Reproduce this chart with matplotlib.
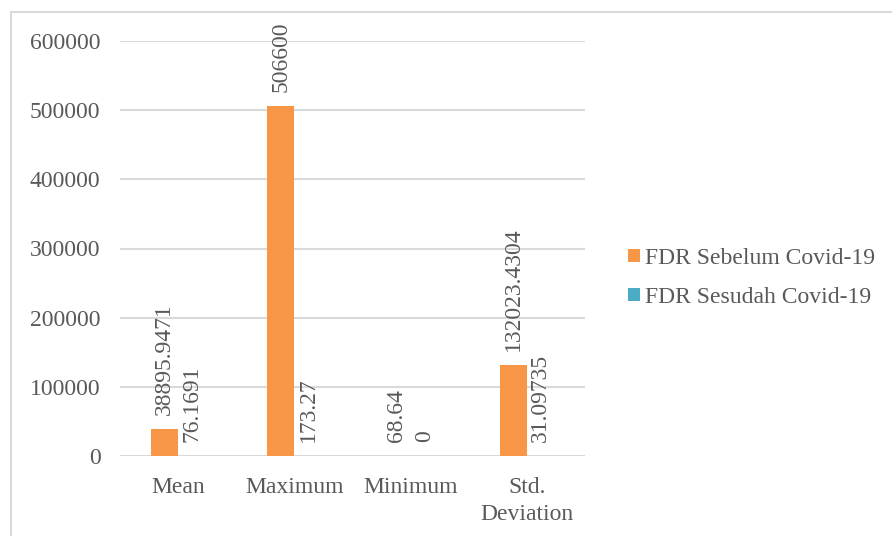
import numpy as np
import matplotlib.pyplot as plt
from matplotlib.patches import Rectangle

# Descriptive statistics of FDR before and after Covid-19
categories = ['Mean', 'Maximum', 'Minimum', 'Std.\nDeviation']
sebelum = [38895.9471, 506600, 68.64, 132023.4304]
sesudah = [76.1691, 173.27, 0, 31.09735]
sebelum_labels = ['38895.9471', '506600', '68.64', '132023.4304']
sesudah_labels = ['76.1691', '173.27', '0', '31.09735']
y_ticks = [0, 100000, 200000, 300000, 400000, 500000, 600000]

plt.rcParams['font.family'] = ['Liberation Serif', 'DejaVu Serif']
text_color = '#595959'
fs = 17

W, H = 892, 536
fig = plt.figure(figsize=(W / 100, H / 100), dpi=100)

# chart frame
fig.add_artist(Rectangle((11 / W, -0.1), 1.2, 1 - 12 / H + 0.1, transform=fig.transFigure,
                         fill=False, edgecolor='#D9D9D9', linewidth=1.5))

ax = fig.add_axes([120 / W, 1 - 456 / H, (585 - 120) / W, (456 - 41) / H])

x = np.arange(len(categories))
width = 0.235
b1 = ax.bar(x - width / 2, sebelum, width, color='#F79646', label='FDR Sebelum Covid-19', zorder=3)
b2 = ax.bar(x + width / 2, sesudah, width, color='#4BACC6', label='FDR Sesudah Covid-19', zorder=3)

# value labels above each bar, rotated
for bars, labels in ((b1, sebelum_labels), (b2, sesudah_labels)):
    for rect, lab in zip(bars, labels):
        ax.annotate(lab, (rect.get_x() + rect.get_width() / 2, rect.get_height()),
                    xytext=(0, 14), textcoords='offset pixels', rotation=90,
                    ha='center', va='bottom', fontsize=fs, color=text_color,
                    annotation_clip=False)

ax.set_xlim(-0.5, len(categories) - 0.5)
ax.set_ylim(0, 600000)
ax.set_yticks(y_ticks)
ax.set_yticklabels([str(t) for t in y_ticks])
ax.set_xticks(x)
ax.set_xticklabels(categories, linespacing=1.4)
ax.tick_params(axis='both', length=0, labelsize=fs, labelcolor=text_color)
ax.tick_params(axis='y', pad=14)
ax.tick_params(axis='x', pad=15)
ax.grid(axis='y', color='#D9D9D9', linewidth=1.5, zorder=0)
for s in ax.spines.values():
    s.set_visible(False)

handles, labels = ax.get_legend_handles_labels()
fig.legend(handles, labels, loc='center left', bbox_to_anchor=(607 / W, 1 - 278 / H),
           frameon=False, fontsize=fs, labelcolor=text_color, handlelength=0.5,
           handleheight=0.5, handletextpad=0.2, labelspacing=0.75)

fig.savefig('out.png', dpi=100)
